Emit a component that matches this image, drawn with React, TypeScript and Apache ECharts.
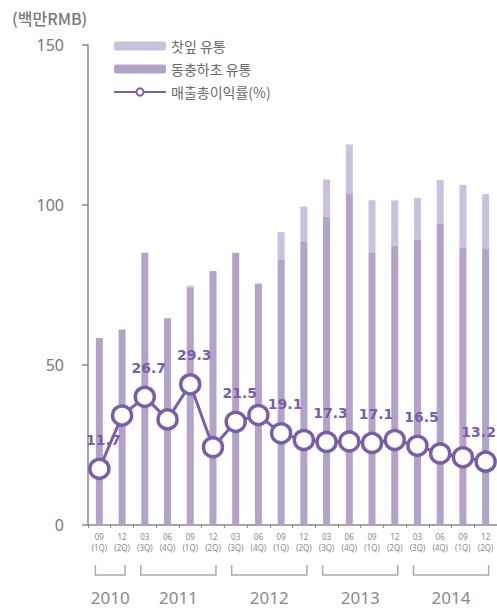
import React, { useEffect, useRef } from "react";
import * as echarts from "echarts";

const categories = [
  "09\n(1Q)", "12\n(2Q)",
  "03\n(3Q)", "06\n(4Q)", "09\n(1Q)", "12\n(2Q)",
  "03\n(3Q)", "06\n(4Q)", "09\n(1Q)", "12\n(2Q)",
  "03\n(3Q)", "06\n(4Q)", "09\n(1Q)", "12\n(2Q)",
  "03\n(3Q)", "06\n(4Q)", "09\n(1Q)", "12\n(2Q)",
];
const years = ["2010", "2011", "2012", "2013", "2014"];
const yearCounts = [2, 4, 4, 4, 4];

const cordycepsValues = [58.4, 61.1, 85.1, 64.6, 74.3, 79.4, 85.1, 75.5, 82.8, 88.4, 96.4, 103.4, 85.0, 87.2, 89.2, 94.1, 86.7, 86.5];
const teaValues = [0, 0, 0, 0, 0.5, 0, 0, 0, 8.7, 11.1, 11.6, 15.5, 16.5, 14.2, 13.0, 13.7, 19.6, 16.9];
const marginValues = [11.7, 22.8, 26.7, 22.0, 29.3, 16.2, 21.5, 22.9, 19.1, 17.7, 17.3, 17.4, 17.1, 17.7, 16.5, 14.9, 14.1, 13.2];
const labeledIdx = [0, 2, 4, 6, 8, 10, 12, 14, 17];

const yTicks = { min: 0, max: 150, interval: 50 };

const PURPLE = "#7b5ea7";
const DARK = "#b3a3c9";
const LIGHT = "#cbc1dc";
const GRAY = "#7a7a7a";
const FONT = "'Noto Sans', 'Noto Sans CJK KR', sans-serif";
const KFONT = "'Noto Sans CJK KR', 'Noto Sans', sans-serif";
const LFONT = "'DejaVu Sans', 'Noto Sans', sans-serif";

export default function App() {
  const ref = useRef<HTMLDivElement>(null);
  useEffect(() => {
    document.body.style.margin = "0";
    if (!ref.current) return;
    const chart = echarts.init(ref.current, undefined, { renderer: "svg" });
    const lastIdx = marginValues.length - 1;
    const option: any = {
      animation: false,
      backgroundColor: "#fff",
      title: {
        text: "(백만RMB)",
        left: 7,
        top: 5,
        textStyle: { fontFamily: KFONT, fontSize: 16, fontWeight: 500, color: GRAY },
      },
      legend: {
        orient: "vertical",
        left: 108,
        top: 34,
        itemWidth: 52,
        itemHeight: 9,
        itemGap: 9,
        data: ["찻잎 유통", "동충하초 유통", "매출총이익률(%)"],
        textStyle: { fontFamily: KFONT, fontSize: 14, color: "#6a6a6a" },
      },
      grid: { left: 88, right: 0, top: 45, bottom: 84, containLabel: false },
      xAxis: {
        type: "category",
        data: categories,
        axisLine: { lineStyle: { color: "#888", width: 1.5 } },
        axisTick: { show: true, length: 3, lineStyle: { color: "#888" } },
        axisLabel: {
          interval: 0,
          fontFamily: FONT,
          fontSize: 8,
          lineHeight: 11,
          color: "#8a8a8a",
          margin: 6,
        },
      },
      yAxis: [
        {
          type: "value",
          min: yTicks.min,
          max: yTicks.max,
          interval: yTicks.interval,
          splitLine: { show: false },
          axisLine: { show: true, lineStyle: { color: "#888", width: 1.5 } },
          axisTick: { show: true, length: 6, lineStyle: { color: "#888", width: 1.5 } },
          axisLabel: { fontFamily: FONT, fontSize: 16, color: GRAY, margin: 24 },
        },
        {
          type: "value",
          min: 0,
          max: 100,
          show: false,
          splitLine: { show: false },
        },
      ],
      series: [
        {
          name: "동충하초 유통",
          type: "bar",
          stack: "sales",
          barWidth: 7,
          data: cordycepsValues,
          itemStyle: { color: DARK },
        },
        {
          name: "찻잎 유통",
          type: "bar",
          stack: "sales",
          barWidth: 7,
          data: teaValues,
          itemStyle: { color: LIGHT },
        },
        {
          name: "매출총이익률(%)",
          type: "line",
          yAxisIndex: 1,
          symbol: "circle",
          symbolSize: 19,
          z: 5,
          lineStyle: { color: PURPLE, width: 3 },
          itemStyle: { color: "#fff", borderColor: PURPLE, borderWidth: 3.5 },
          data: marginValues.map((v, i) => ({
            value: v,
            label: i === lastIdx
              ? { show: true, offset: [-7, 0] }
              : { show: labeledIdx.includes(i) },
          })),
          label: {
            position: "top",
            distance: 11,
            offset: [4, 0],
            fontFamily: LFONT,
            fontSize: 14,
            fontWeight: "bold",
            color: PURPLE,
            formatter: (p: any) => String(p.value),
          },
        },
      ],
    };
    chart.setOption(option);

    const y0 = chart.convertToPixel({ yAxisIndex: 0 }, 0) as number;
    const graphics: any[] = [];
    let start = 0;
    years.forEach((yr, k) => {
      const end = start + yearCounts[k] - 1;
      const x0 = (chart.convertToPixel({ xAxisIndex: 0 }, start) as number) - 4;
      const x1 = (chart.convertToPixel({ xAxisIndex: 0 }, end) as number) + 3;
      graphics.push({
        type: "polyline",
        shape: { points: [[x0, y0 + 40], [x0, y0 + 50], [x1, y0 + 50], [x1, y0 + 40]] },
        style: { stroke: "#aaa", lineWidth: 1.5, fill: null },
      });
      graphics.push({
        type: "text",
        x: (x0 + x1) / 2,
        y: y0 + 72,
        style: {
          text: yr,
          fontFamily: FONT,
          fontSize: 17,
          fill: "#8a8a8a",
          align: "center",
          verticalAlign: "middle",
        },
      });
      start = end + 1;
    });
    chart.setOption({ graphic: graphics });

    return () => chart.dispose();
  }, []);
  return (
    <div
      ref={ref}
      style={{ position: "fixed", left: 0, top: 0, width: 497, height: 609 }}
    />
  );
}
